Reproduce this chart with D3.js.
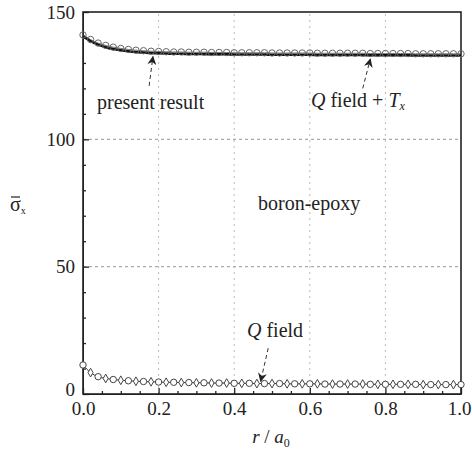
<!DOCTYPE html>
<html>
<head>
<meta charset="utf-8">
<script src="https://cdn.jsdelivr.net/npm/d3@7"></script>
<style>
  body { margin: 0; background: #fff; }
</style>
</head>
<body>
<div id="chart"></div>
<script>
const width = 473,
      height = 450,
      margin = { top: 12, right: 12, bottom: 56, left: 83 };
const serif = "Liberation Serif";

// r/a0 positions of the markers
const rVals = [0.00, 0.02, 0.04, 0.06, 0.08, 0.10, 0.12, 0.14, 0.16, 0.18,
               0.20, 0.22, 0.24, 0.26, 0.28, 0.30, 0.32, 0.34, 0.36, 0.38,
               0.40, 0.42, 0.44, 0.46, 0.48, 0.50, 0.52, 0.54, 0.56, 0.58,
               0.60, 0.62, 0.64, 0.66, 0.68, 0.70, 0.72, 0.74, 0.76, 0.78,
               0.80, 0.82, 0.84, 0.86, 0.88, 0.90, 0.92, 0.94, 0.96, 0.98, 1.00];
// present result (circles)
const presentResult = [141.0, 139.2, 137.8, 136.9, 136.2, 135.7, 135.3, 135.0, 134.8, 134.6,
                       134.5, 134.4, 134.3, 134.3, 134.2, 134.2, 134.2, 134.1, 134.1, 134.1,
                       134.0, 134.0, 134.0, 134.0, 134.0, 133.9, 133.9, 133.9, 133.9, 133.9,
                       133.9, 133.8, 133.8, 133.8, 133.8, 133.8, 133.8, 133.8, 133.7, 133.7,
                       133.7, 133.7, 133.7, 133.7, 133.6, 133.6, 133.6, 133.6, 133.6, 133.6, 133.6];
// Q field + Tx (thick line)
const qFieldTx = [140.5, 138.6, 137.2, 136.2, 135.5, 135.0, 134.6, 134.3, 134.1, 133.9,
                  133.8, 133.7, 133.6, 133.6, 133.5, 133.5, 133.5, 133.4, 133.4, 133.4,
                  133.3, 133.3, 133.3, 133.3, 133.3, 133.2, 133.2, 133.2, 133.2, 133.2,
                  133.2, 133.1, 133.1, 133.1, 133.1, 133.1, 133.1, 133.1, 133.0, 133.0,
                  133.0, 133.0, 133.0, 133.0, 132.9, 132.9, 132.9, 132.9, 132.9, 132.9, 132.9];
// Q field (lower curve)
const qField = [11.4, 8.4, 6.8, 6.1, 5.7, 5.4, 5.2, 5.0, 4.9, 4.8,
                4.7, 4.6, 4.6, 4.5, 4.5, 4.4, 4.4, 4.3, 4.3, 4.3,
                4.2, 4.2, 4.2, 4.1, 4.1, 4.1, 4.1, 4.0, 4.0, 4.0,
                4.0, 4.0, 3.9, 3.9, 3.9, 3.9, 3.9, 3.9, 3.8, 3.8,
                3.8, 3.8, 3.8, 3.8, 3.8, 3.7, 3.7, 3.7, 3.7, 3.7, 3.7];

const xTicks = [0, 0.2, 0.4, 0.6, 0.8, 1.0];
const xMinor = [0.05, 0.1, 0.15, 0.25, 0.3, 0.35, 0.45, 0.5, 0.55, 0.65, 0.7, 0.75, 0.85, 0.9, 0.95];
const yTicks = [0, 50, 100, 150];
const yMinor = [10, 20, 30, 40, 60, 70, 80, 90, 110, 120, 130, 140];

const svg = d3.select("#chart").append("svg")
  .attr("width", width)
  .attr("height", height)
  .attr("font-family", serif);

const x = d3.scaleLinear().domain([0, 1]).range([margin.left, width - margin.right]);
const y = d3.scaleLinear().domain([0, 150]).range([height - margin.bottom, margin.top]);

// grid
svg.append("g").selectAll("line")
  .data(xTicks.slice(1, -1))
  .join("line")
  .attr("x1", d => x(d)).attr("x2", d => x(d))
  .attr("y1", y(0)).attr("y2", y(150))
  .attr("stroke", "#bbb").attr("stroke-width", 1).attr("stroke-dasharray", "2,4");
svg.append("g").selectAll("line")
  .data([50, 100])
  .join("line")
  .attr("x1", x(0)).attr("x2", x(1))
  .attr("y1", d => y(d)).attr("y2", d => y(d))
  .attr("stroke", "#aaa").attr("stroke-width", 1.2).attr("stroke-dasharray", "3,3");

// axes with inside ticks
const xAxis = svg.append("g")
  .attr("transform", `translate(0,${y(0)})`)
  .call(d3.axisBottom(x).tickValues(xTicks).tickFormat(d3.format(".1f")).tickSizeInner(-6).tickSizeOuter(0).tickPadding(8));
svg.append("g")
  .attr("transform", `translate(0,${y(0)})`)
  .call(d3.axisBottom(x).tickValues(xMinor).tickFormat("").tickSizeInner(-3).tickSizeOuter(0))
  .call(g => g.select(".domain").remove());
const yAxis = svg.append("g")
  .attr("transform", `translate(${x(0)},0)`)
  .call(d3.axisLeft(y).tickValues(yTicks).tickSizeInner(-6).tickSizeOuter(0).tickPadding(8));
svg.append("g")
  .attr("transform", `translate(${x(0)},0)`)
  .call(d3.axisLeft(y).tickValues(yMinor).tickFormat("").tickSizeInner(-3).tickSizeOuter(0))
  .call(g => g.select(".domain").remove());

svg.selectAll("g").attr("font-family", serif).attr("font-size", 19);
svg.selectAll(".tick text").attr("fill", "#222");
svg.selectAll(".tick line").attr("stroke", "#222").attr("stroke-width", 1.3);
svg.selectAll(".domain").attr("stroke", "#222");
// keep the corner labels apart and inside the page
yAxis.selectAll(".tick text").filter(d => d === 0).attr("dy", "0.1em");
xAxis.selectAll(".tick text").filter(d => d === 1).attr("dx", "-2");

// frame
svg.append("rect")
  .attr("x", x(0)).attr("y", y(150))
  .attr("width", x(1) - x(0)).attr("height", y(0) - y(150))
  .attr("fill", "none").attr("stroke", "#222").attr("stroke-width", 1.6);

const line = d3.line().curve(d3.curveMonotoneX);

// Q field + Tx thick line
svg.append("path")
  .attr("d", line(rVals.map((r, i) => [x(r), y(qFieldTx[i])])))
  .attr("fill", "none").attr("stroke", "#111").attr("stroke-width", 2.6);
// present result circles + thin line
svg.append("path")
  .attr("d", line(rVals.map((r, i) => [x(r), y(presentResult[i])])))
  .attr("fill", "none").attr("stroke", "#555").attr("stroke-width", 0.8);
svg.append("g").selectAll("circle")
  .data(rVals)
  .join("circle")
  .attr("cx", d => x(d))
  .attr("cy", (d, i) => y(presentResult[i]))
  .attr("r", 3.2)
  .attr("fill", "none").attr("stroke", "#666").attr("stroke-width", 1);

// Q field lower curve
svg.append("path")
  .attr("d", line(rVals.map((r, i) => [x(r), y(qField[i])])))
  .attr("fill", "none").attr("stroke", "#333").attr("stroke-width", 1);
const lowMarks = svg.append("g");
lowMarks.selectAll("circle")
  .data(rVals.filter((d, i) => i % 2 === 0))
  .join("circle")
  .attr("cx", d => x(d))
  .attr("cy", d => y(qField[rVals.indexOf(d)]))
  .attr("r", 3.2)
  .attr("fill", "#fff").attr("stroke", "#444").attr("stroke-width", 1);
lowMarks.selectAll("path")
  .data(rVals.filter((d, i) => i % 2 === 1))
  .join("path")
  .attr("d", d3.symbol(d3.symbolDiamond, 22))
  .attr("transform", d => `translate(${x(d)},${y(qField[rVals.indexOf(d)])})`)
  .attr("fill", "#fff").attr("stroke", "#444").attr("stroke-width", 1);

// annotation arrows
svg.append("defs").append("marker")
  .attr("id", "head")
  .attr("viewBox", "0 0 10 10")
  .attr("refX", 9).attr("refY", 5)
  .attr("markerWidth", 9).attr("markerHeight", 9)
  .attr("markerUnits", "userSpaceOnUse")
  .attr("orient", "auto")
  .append("path").attr("d", "M0,0 L10,5 L0,10 L3,5 Z").attr("fill", "#222");

const arrows = [
  { from: [0.175, 121], to: [0.185, 132.5] },
  { from: [0.74, 120], to: [0.76, 131.5] },
  { from: [0.49, 18], to: [0.47, 5] }
];
svg.append("g").selectAll("line")
  .data(arrows)
  .join("line")
  .attr("x1", d => x(d.from[0])).attr("y1", d => y(d.from[1]))
  .attr("x2", d => x(d.to[0])).attr("y2", d => y(d.to[1]))
  .attr("stroke", "#333").attr("stroke-width", 1).attr("stroke-dasharray", "4,3")
  .attr("marker-end", "url(#head)");

// labels
function label(xp, yp, size) {
  return svg.append("text").attr("x", xp).attr("y", yp)
    .attr("font-family", serif).attr("font-size", size).attr("fill", "#222");
}
label(97, 109, 20).text("present result");

const qt = label(311, 107, 20);
qt.append("tspan").attr("font-style", "italic").text("Q");
qt.append("tspan").text(" field + ");
qt.append("tspan").attr("font-style", "italic").text("T");
qt.append("tspan").attr("font-style", "italic").attr("font-size", 12).attr("dy", 3).text("x");

label(258, 210, 20).text("boron-epoxy");

const qf = label(247, 337, 20);
qf.append("tspan").attr("font-style", "italic").text("Q");
qf.append("tspan").text(" field");

// y label
const yl = label(10, 211, 20);
yl.append("tspan").text("σ");
yl.append("tspan").attr("font-size", 10).attr("dy", 3).text("x");
svg.append("line").attr("x1", 11).attr("x2", 20).attr("y1", 197).attr("y2", 197)
  .attr("stroke", "#222").attr("stroke-width", 1.2);

// x label
const xl = label(271, 443, 19).attr("text-anchor", "middle");
xl.append("tspan").attr("font-style", "italic").text("r");
xl.append("tspan").text(" / ");
xl.append("tspan").attr("font-style", "italic").text("a");
xl.append("tspan").attr("font-size", 12).attr("dy", 4).text("0");
</script>
</body>
</html>
